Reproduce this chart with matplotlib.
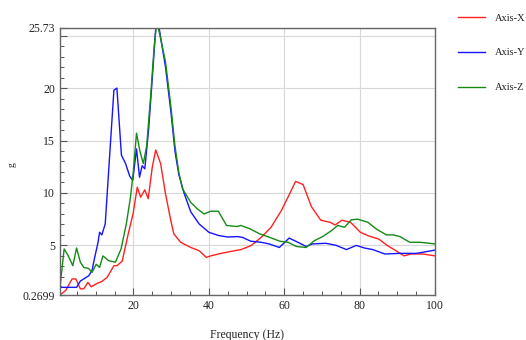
import matplotlib
matplotlib.use("Agg")
import matplotlib.pyplot as plt
from matplotlib.ticker import MultipleLocator
from matplotlib.lines import Line2D

plt.rcParams['font.family'] = ['Liberation Serif', 'DejaVu Serif']

# ---- data ----
red_f = [0.5, 2, 3.7, 4.7, 5.9, 6.8, 7.9, 8.8, 10.3, 11.6, 13, 14.8, 15.6, 17, 18.7, 19.9, 21, 21.9,
         23, 23.9, 25, 25.9, 27.2, 28.5, 29.9, 30.7, 32.5, 35.2, 37.4, 39.3, 40.5, 43.2, 45.9, 48.5,
         51.2, 53.9, 56.5, 59.2, 61, 63, 65, 67.2, 69.7, 72.2, 73.5, 75.3, 77.6, 80.2, 82.4, 85.1,
         87.3, 89.6, 91.8, 93.6, 96.8, 100]
red_v = [0.27, 0.7, 1.8, 1.8, 0.86, 0.86, 1.47, 1.05, 1.37, 1.56, 1.95, 3.06, 3.06, 3.5, 6.25, 8.03,
         10.55, 9.6, 10.3, 9.45, 12.5, 14.1, 12.8, 9.9, 7.37, 6.1, 5.3, 4.8, 4.5, 3.86, 4.0, 4.24,
         4.43, 4.6, 4.98, 5.77, 6.73, 8.3, 9.6, 11.1, 10.8, 8.7, 7.4, 7.2, 6.95, 7.4, 7.2, 6.25, 5.9,
         5.6, 5.0, 4.5, 4.0, 4.18, 4.18, 4.0]

blue_f = [0.5, 1, 4.9, 5.9, 8.1, 9, 9.7, 10.6, 11, 11.6, 12.5, 14.8, 15.6, 16.8, 17.9, 19, 19.8, 20.8,
          21.6, 22.3, 23, 24, 25, 25.9, 26.8, 28.5, 30, 31, 32, 33.4, 35.2, 37.4, 40, 42.5, 45, 47.5,
          48.9, 51.1, 53.8, 56, 58.7, 61.3, 63.6, 65.8, 67.5, 71.1, 73.8, 76.5, 79.1, 81.3, 83.5,
          86.7, 90.7, 95.1, 100]
blue_v = [1.15, 1.0, 1.0, 1.6, 2.1, 2.6, 3.85, 5.3, 6.25, 6.0, 7.05, 19.8, 20.0, 13.6, 12.8, 11.6,
          11.2, 14.2, 11.5, 12.6, 12.3, 16, 21, 25.73, 25.73, 22, 17.5, 14, 11.8, 10.0, 8.2, 7.05,
          6.25, 5.95, 5.8, 5.84, 5.77, 5.4, 5.3, 5.14, 4.8, 5.7, 5.3, 4.9, 5.14, 5.2, 5.0, 4.6, 5.0,
          4.75, 4.6, 4.18, 4.24, 4.24, 4.55]

green_f = [0.5, 1.6, 2.7, 3.9, 4.9, 5.9, 6.8, 8.1, 9, 10.1, 11, 11.9, 13.4, 15.2, 16.7, 18.1, 19.2,
           19.9, 20.8, 21.7, 22.6, 23.5, 24.5, 25.5, 26, 26.6, 28.5, 30, 31, 32, 33, 35.2, 36.9,
           38.7, 40.5, 42.5, 44.7, 47.4, 48.5, 50.8, 53.5, 56.1, 58.8, 61, 63.2, 65.8, 68, 70.2,
           72.5, 74.2, 76, 77.8, 79.5, 82.2, 84.4, 87.1, 88.9, 90.7, 93.3, 96, 100]
green_v = [1.0, 4.66, 4.0, 3.06, 4.75, 3.4, 2.9, 2.8, 2.42, 3.2, 2.9, 4.0, 3.54, 3.4, 4.66, 7.05, 9.6,
           11.85, 15.7, 14.0, 12.8, 14.5, 19, 24, 25.73, 25.73, 22.5, 18, 14.5, 12, 10.4, 9.1, 8.5,
           8.0, 8.26, 8.26, 6.9, 6.8, 6.9, 6.6, 6.1, 5.77, 5.4, 5.3, 4.9, 4.8, 5.45, 5.84, 6.4, 6.9,
           6.73, 7.44, 7.5, 7.2, 6.57, 6.0, 6.0, 5.84, 5.3, 5.3, 5.14]

series_names = ["Axis-X", "Axis-Y", "Axis-Z"]
series_colors = ["#ff2020", "#1414ff", "#158a15"]

y_min, y_max = 0.2699, 25.73
x_min, x_max = 0.5, 100
y_ticks = [y_min, 5, 10, 15, 20, 25, y_max]
y_labels = ["0.2699", "5", "10", "15", "20", "", "25.73"]
x_ticks = [20, 40, 60, 80, 100]

# ---- figure ----
fig = plt.figure(figsize=(5.26, 3.4), dpi=100)
ax = fig.add_axes([60/526, 1-295/340, (435-60)/526, (295-28)/340])

for f, v, c, n in zip([red_f, blue_f, green_f], [red_v, blue_v, green_v], series_colors, series_names):
    ax.plot(f, v, color=c, lw=1.0, label=n, clip_on=True)

ax.set_xlim(x_min, x_max)
ax.set_ylim(y_min, y_max)
ax.set_yticks(y_ticks)
ax.set_yticklabels(y_labels)
ax.set_xticks(x_ticks)
ax.xaxis.set_minor_locator(MultipleLocator(5))
ax.yaxis.set_minor_locator(MultipleLocator(1))
ax.grid(True, which='major', color='#d8d8d8', lw=0.8)
ax.tick_params(which='both', direction='in', colors='#555555', labelcolor='#222222', labelsize=8.5)
ax.tick_params(which='major', length=5, width=0.8)
ax.tick_params(which='minor', length=3, width=0.7)
for s in ax.spines.values():
    s.set_color('#666666')
    s.set_linewidth(1.0)

ax.set_xlabel("Frequency (Hz)", fontsize=8.5, color='#222222', labelpad=12)
fig.text(12/526, 1-165/340, "g", rotation=90, fontsize=7, color='#222222',
         ha='center', va='center')

handles = [Line2D([0], [0], color=c, lw=1.0) for c in series_colors]
fig.legend(handles, series_names, loc='upper left', bbox_to_anchor=(450/526, 1-5/340),
           frameon=False, fontsize=7.5, handlelength=2.6, handletextpad=0.9, labelspacing=2.45,
           labelcolor='#222222', borderpad=0.3)

fig.savefig("out.png", dpi=100)
